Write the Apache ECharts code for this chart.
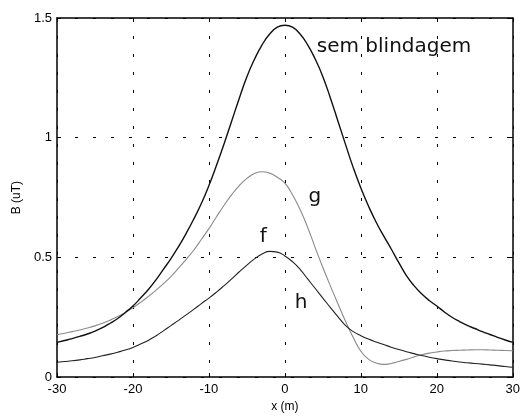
<!DOCTYPE html>
<html>
<head>
<meta charset="utf-8">
<script src="https://cdn.jsdelivr.net/npm/echarts@6/dist/echarts.min.js"></script>
<style>
  html, body { margin: 0; padding: 0; background: #fff; }
  #chart { width: 523px; height: 418px; }
</style>
</head>
<body>
<div id="chart"></div>
<script>
// Magnetic flux density along the profile, x in metres (1 m steps), B in microtesla
var xPos = [-30, -29, -28, -27, -26, -25, -24, -23, -22, -21, -20, -19, -18, -17, -16, -15, -14, -13, -12, -11, -10, -9, -8, -7, -6, -5, -4, -3, -2, -1, 0,
            1, 2, 3, 4, 5, 6, 7, 8, 9, 10, 11, 12, 13, 14, 15, 16, 17, 18, 19, 20, 21, 22, 23, 24, 25, 26, 27, 28, 29, 30];
var xTicks = [-30, -20, -10, 0, 10, 20, 30];
var yTicks = [0, 0.5, 1, 1.5];

// unshielded line
var semB = [0.145, 0.153, 0.161, 0.17, 0.18, 0.192, 0.207, 0.225, 0.245, 0.27, 0.297, 0.33, 0.365, 0.405, 0.45, 0.495, 0.545, 0.60, 0.66, 0.725, 0.80, 0.885, 0.975, 1.07, 1.165, 1.255, 1.328, 1.388, 1.433, 1.462, 1.47,
            1.462, 1.433, 1.388, 1.328, 1.255, 1.165, 1.068, 0.97, 0.875, 0.79, 0.715, 0.648, 0.59, 0.535, 0.478, 0.424, 0.382, 0.348, 0.32, 0.297, 0.272, 0.25, 0.232, 0.216, 0.203, 0.19, 0.178, 0.166, 0.155, 0.145];

// shield g
var gB = [0.177, 0.183, 0.19, 0.197, 0.205, 0.214, 0.225, 0.238, 0.253, 0.27, 0.29, 0.312, 0.336, 0.362, 0.39, 0.42, 0.455, 0.492, 0.53, 0.575, 0.62, 0.67, 0.718, 0.762, 0.80, 0.83, 0.85, 0.858, 0.852, 0.835, 0.81,
          0.762, 0.70, 0.625, 0.54, 0.458, 0.38, 0.305, 0.232, 0.165, 0.108, 0.075, 0.059, 0.053, 0.057, 0.065, 0.074, 0.084, 0.093, 0.10, 0.105, 0.109, 0.111, 0.112, 0.113, 0.114, 0.114, 0.113, 0.112, 0.111, 0.11];

// shield h
var hB = [0.062, 0.065, 0.068, 0.072, 0.077, 0.082, 0.089, 0.096, 0.104, 0.113, 0.124, 0.138, 0.153, 0.172, 0.193, 0.215, 0.237, 0.26, 0.283, 0.307, 0.33, 0.355, 0.382, 0.41, 0.44, 0.468, 0.494, 0.514, 0.525, 0.522, 0.506,
          0.482, 0.45, 0.41, 0.37, 0.33, 0.29, 0.252, 0.215, 0.19, 0.173, 0.159, 0.147, 0.136, 0.125, 0.115, 0.106, 0.098, 0.09, 0.083, 0.077, 0.072, 0.067, 0.063, 0.06, 0.057, 0.054, 0.051, 0.048, 0.044, 0.041];

// curve captions: [text, x, B] (left edge, bottom of text box)
var captions = [
  ['sem blindagem', 4.2, 1.34],
  ['g', 3.1, 0.71],
  ['f', -3.3, 0.543],
  ['h', 1.3, 0.27]
];

function pairs(xs, ys) {
  return xs.map(function (x, i) { return [x, ys[i]]; });
}

var FONT = 'Liberation Sans, Arial, sans-serif';
var chart = echarts.init(document.getElementById('chart'), null, { renderer: 'canvas' });

var dotted = { show: true, lineStyle: { color: '#000', width: 1, type: [3, 15] } };

var option = {
  backgroundColor: '#fff',
  animation: false,
  grid: { left: 57, right: 3, top: 18, bottom: 38, containLabel: false },
  xAxis: [{
    type: 'value', min: -30, max: 30, interval: 10, position: 'bottom',
    axisLine: { show: true, onZero: false, lineStyle: { color: '#000', width: 1.5 } },
    axisTick: { show: true, inside: true, length: 4, lineStyle: { color: '#000' } },
    axisLabel: { color: '#000', fontFamily: FONT, fontSize: 13, margin: 6,
      formatter: function (v) { return xTicks.indexOf(v) >= 0 ? String(v) : ''; } },
    splitLine: dotted,
    name: 'x (m)', nameLocation: 'middle', nameGap: 23,
    nameTextStyle: { color: '#000', fontFamily: FONT, fontSize: 12 }
  }, {
    type: 'value', min: -30, max: 30, interval: 10, position: 'top',
    axisLine: { show: true, onZero: false, lineStyle: { color: '#000', width: 1.5 } },
    axisTick: { show: true, inside: true, length: 4, lineStyle: { color: '#000' } },
    axisLabel: { show: false }, splitLine: { show: false }
  }],
  yAxis: [{
    type: 'value', min: 0, max: 1.5, interval: 0.5, position: 'left',
    axisLine: { show: true, onZero: false, lineStyle: { color: '#000', width: 1.5 } },
    axisTick: { show: true, inside: true, length: 4, lineStyle: { color: '#000' } },
    axisLabel: { color: '#000', fontFamily: FONT, fontSize: 13, margin: 5,
      formatter: function (v) { return yTicks.indexOf(v) >= 0 ? String(v) : ''; } },
    splitLine: dotted,
    name: 'B (uT)', nameLocation: 'middle', nameGap: 29, nameRotate: 90,
    nameTextStyle: { color: '#000', fontFamily: FONT, fontSize: 12 }
  }, {
    type: 'value', min: 0, max: 1.5, interval: 0.5, position: 'right',
    axisLine: { show: true, onZero: false, lineStyle: { color: '#000', width: 1.5 } },
    axisTick: { show: true, inside: true, length: 4, lineStyle: { color: '#000' } },
    axisLabel: { show: false }, splitLine: { show: false }
  }],
  series: [{
    name: 'sem blindagem', type: 'line', data: pairs(xPos, semB),
    smooth: 0.5, showSymbol: false,
    lineStyle: { color: '#111', width: 1.4 }, z: 4
  }, {
    name: 'g', type: 'line', data: pairs(xPos, gB),
    smooth: 0.5, showSymbol: false,
    lineStyle: { color: '#8a8a8a', width: 1.1 }, z: 3
  }, {
    name: 'h', type: 'line', data: pairs(xPos, hB),
    smooth: 0.5, showSymbol: false,
    lineStyle: { color: '#222', width: 1.1 }, z: 4
  }]
};

chart.setOption(option);

// place captions in data coordinates
var texts = captions.map(function (c) {
  var p = chart.convertToPixel({ xAxisIndex: 0, yAxisIndex: 0 }, [c[1], c[2]]);
  return {
    type: 'text', x: p[0], y: p[1], z: 10,
    style: { text: c[0], fill: '#111', font: '20px "DejaVu Sans", sans-serif',
      textAlign: 'left', textVerticalAlign: 'bottom' }
  };
});
chart.setOption({ graphic: texts });
</script>
</body>
</html>
